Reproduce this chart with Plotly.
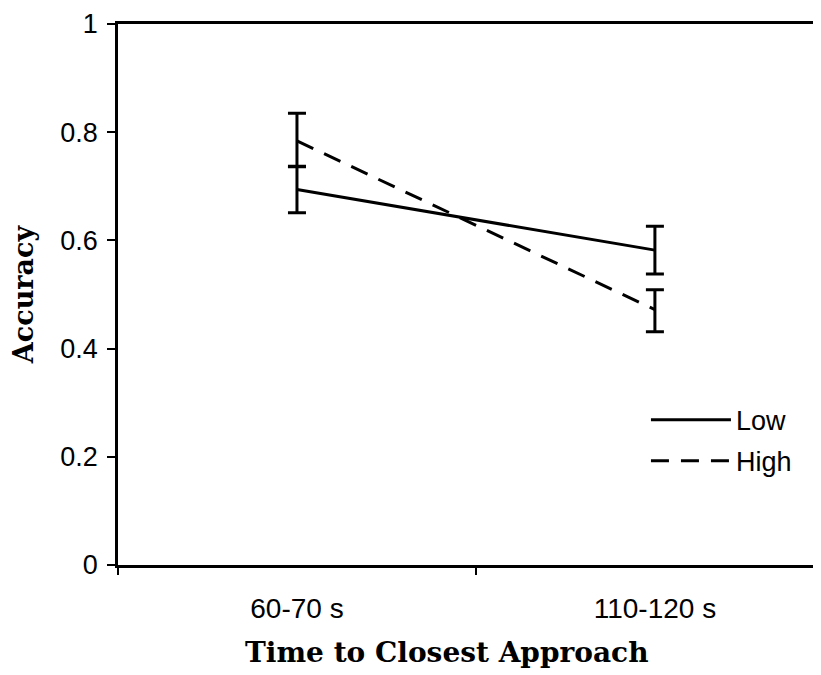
import plotly.graph_objects as go

categories = ["60-70 s", "110-120 s"]
low_vals = [0.694, 0.582]
low_err = [0.043, 0.044]
high_vals = [0.784, 0.472]
high_err_plus = [0.051, 0.037]
high_err_minus = [0.048, 0.041]
y_ticks = [0, 0.2, 0.4, 0.6, 0.8, 1]
y_tick_text = ["0", "0.2", "0.4", "0.6", "0.8", "1"]
x_title = "Time to Closest Approach"
y_title = "Accuracy"

SANS = "Liberation Sans, Arial, sans-serif"
SERIF = "DejaVu Serif, serif"

fig = go.Figure()
fig.add_trace(go.Scatter(
    x=categories, y=low_vals, name="Low", mode="lines",
    line=dict(color="black", width=3),
    error_y=dict(type="data", array=low_err, color="black", thickness=3, width=9),
    legendgroup="a",
))
fig.add_trace(go.Scatter(
    x=categories, y=high_vals, name="High", mode="lines",
    line=dict(color="black", width=3, dash="18px,12px"),
    error_y=dict(type="data", symmetric=False, array=high_err_plus,
                 arrayminus=high_err_minus, color="black", thickness=3, width=9),
    legendgroup="b",
))

fig.add_annotation(
    text="<b>" + x_title + "</b>", xref="paper", yref="paper",
    x=0.468, y=-0.161, xanchor="center", yanchor="middle", showarrow=False,
    font=dict(family=SERIF, size=28, color="black"),
)

fig.update_layout(
    width=813, height=667,
    margin=dict(l=110, r=0, t=16, b=110, autoexpand=False),
    paper_bgcolor="white", plot_bgcolor="white",
    font=dict(family=SANS, size=28, color="black"),
    showlegend=True,
    legend=dict(x=0.751, y=0.313, xanchor="left", yanchor="top",
                bgcolor="rgba(0,0,0,0)", itemwidth=80,
                traceorder="grouped", tracegroupgap=3,
                font=dict(family=SANS, size=27)),
    xaxis=dict(
        type="category", range=[-0.5, 1.464], automargin=False,
        tickson="boundaries", ticks="outside", ticklen=7, tickwidth=1.5,
        tickcolor="black", showline=True, linecolor="black", linewidth=2.5,
        mirror=True, showgrid=False, zeroline=False,
        tickfont=dict(family=SANS, size=28), ticklabelstandoff=17,
        ticklabeloverflow="allow",
    ),
    yaxis=dict(
        range=[0, 1], tickvals=y_ticks, ticktext=y_tick_text, automargin=False,
        ticks="outside", ticklen=8, tickwidth=1.5, tickcolor="black",
        showline=True, linecolor="black", linewidth=2.5,
        showgrid=False, zeroline=False, ticklabeloverflow="allow",
        tickfont=dict(family=SANS, size=27), ticklabelstandoff=4,
        title=dict(text="<b>" + y_title + "</b>", font=dict(family=SERIF, size=27),
                   standoff=26),
    ),
)

fig.write_html("out.html")
